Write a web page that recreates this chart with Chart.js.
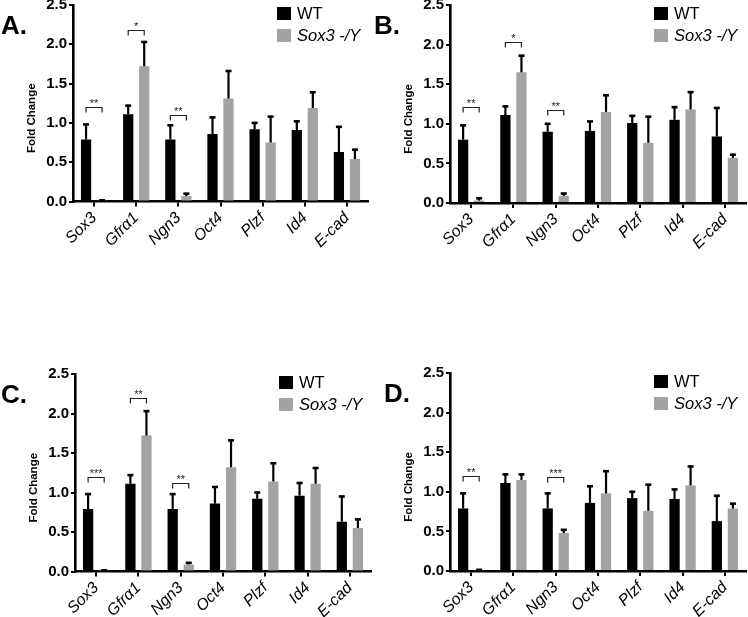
<!DOCTYPE html>
<html>
<head>
<meta charset="utf-8">
<script src="https://cdn.jsdelivr.net/npm/chart.js@4.4.1/dist/chart.umd.min.js"></script>
<style>
  html, body { margin: 0; padding: 0; background: #fff; }
  #wrap { position: relative; width: 748px; height: 617px; overflow: hidden; }
  canvas { position: absolute; }
</style>
</head>
<body>
<div id="wrap">
  <canvas id="panelA" width="374" height="250" style="left:0;top:0"></canvas>
  <canvas id="panelB" width="374" height="250" style="left:374px;top:0"></canvas>
  <canvas id="panelC" width="374" height="317" style="left:0;top:300px"></canvas>
  <canvas id="panelD" width="374" height="317" style="left:374px;top:300px"></canvas>
</div>
<script>
// genes on the x axis
const genes = ['Sox3', 'Gfr\u03B11', 'Ngn3', 'Oct4', 'Plzf', 'Id4', 'E-cad'];
const seriesNames = ['WT', 'Sox3 -/Y'];

// panel A
const wtA = [0.79, 1.11, 0.79, 0.86, 0.92, 0.91, 0.63];
const wtErrA = [0.19, 0.11, 0.18, 0.21, 0.08, 0.11, 0.32];
const koA = [0.01, 1.72, 0.07, 1.31, 0.75, 1.19, 0.54];
const koErrA = [0.005, 0.31, 0.03, 0.35, 0.33, 0.20, 0.12];
const sigGeneA = [0, 1, 2];
const sigLevelA = [1.20, 2.18, 1.10];
const sigTextA = ['**', '*', '**'];

// panel B
const wtB = [0.80, 1.11, 0.90, 0.91, 1.01, 1.05, 0.84];
const wtErrB = [0.18, 0.11, 0.10, 0.12, 0.09, 0.16, 0.36];
const koB = [0.03, 1.65, 0.09, 1.15, 0.76, 1.18, 0.57];
const koErrB = [0.03, 0.21, 0.03, 0.21, 0.33, 0.22, 0.04];
const sigGeneB = [0, 1, 2];
const sigLevelB = [1.21, 2.03, 1.17];
const sigTextB = ['**', '*', '**'];

// panel C
const wtC = [0.79, 1.11, 0.79, 0.86, 0.92, 0.96, 0.63];
const wtErrC = [0.19, 0.11, 0.19, 0.21, 0.08, 0.16, 0.32];
const koC = [0.01, 1.72, 0.09, 1.32, 1.14, 1.11, 0.55];
const koErrC = [0.005, 0.31, 0.02, 0.34, 0.23, 0.20, 0.11];
const sigGeneC = [0, 1, 2];
const sigLevelC = [1.20, 2.20, 1.12];
const sigTextC = ['***', '**', '**'];

// panel D
const wtD = [0.79, 1.11, 0.79, 0.86, 0.92, 0.91, 0.63];
const wtErrD = [0.19, 0.11, 0.19, 0.21, 0.08, 0.12, 0.32];
const koD = [0.01, 1.15, 0.48, 0.98, 0.76, 1.08, 0.79];
const koErrD = [0.005, 0.07, 0.04, 0.28, 0.33, 0.24, 0.06];
const sigGeneD = [0, 2];
const sigLevelD = [1.20, 1.19];
const sigTextD = ['**', '***'];

const yMax = 2.5;
const yStep = 0.5;

const FONT = '"Liberation Sans", Arial, Helvetica, sans-serif';
const GRAY = '#a3a3a3';

// error bars, significance brackets, panel letter, legend and y title
const decoPlugin = {
  id: 'deco',
  afterDatasetsDraw(chart, args, opts) {
    const ctx = chart.ctx;
    const yScale = chart.scales.y;
    const area = chart.chartArea;
    ctx.save();

    // error bars (upper only)
    chart.data.datasets.forEach((ds, i) => {
      const meta = chart.getDatasetMeta(i);
      meta.data.forEach((bar, j) => {
        const top = yScale.getPixelForValue(ds.data[j] + ds.errors[j]);
        ctx.strokeStyle = '#000';
        ctx.lineWidth = 2.2;
        ctx.beginPath();
        ctx.moveTo(bar.x, bar.y);
        ctx.lineTo(bar.x, top);
        ctx.stroke();
        ctx.lineWidth = 2.6;
        ctx.beginPath();
        ctx.moveTo(bar.x - 3, top);
        ctx.lineTo(bar.x + 3, top);
        ctx.stroke();
      });
    });

    // significance brackets
    const m0 = chart.getDatasetMeta(0), m1 = chart.getDatasetMeta(1);
    opts.sigGene.forEach((g, k) => {
      const x1 = m0.data[g].x, x2 = m1.data[g].x;
      const yb = Math.round(yScale.getPixelForValue(opts.sigLevel[k])) + 0.5;
      ctx.strokeStyle = '#222';
      ctx.lineWidth = 1.2;
      ctx.beginPath();
      ctx.moveTo(x1, yb + 5);
      ctx.lineTo(x1, yb);
      ctx.lineTo(x2, yb);
      ctx.lineTo(x2, yb + 5);
      ctx.stroke();
      ctx.fillStyle = '#222';
      ctx.font = '11px ' + FONT;
      ctx.textAlign = 'center';
      ctx.textBaseline = 'alphabetic';
      ctx.fillText(opts.sigText[k], (x1 + x2) / 2, yb - 1);
    });

    // panel letter
    ctx.fillStyle = '#000';
    ctx.font = 'bold 26px ' + FONT;
    ctx.textAlign = 'left';
    ctx.textBaseline = 'alphabetic';
    ctx.fillText(opts.letter, opts.letterX, area.top + 29);

    // y axis title
    ctx.save();
    ctx.translate(area.left - 41, (area.top + area.bottom) / 2 + 15);
    ctx.rotate(-Math.PI / 2);
    ctx.font = 'bold 11.5px ' + FONT;
    ctx.textAlign = 'center';
    ctx.textBaseline = 'middle';
    ctx.fillText('Fold Change', 0, 0);
    ctx.restore();

    // legend
    const lx = area.left + 204;
    const ly = area.top + 2;
    chart.data.datasets.forEach((ds, i) => {
      const y0 = ly + i * 22;
      ctx.fillStyle = ds.backgroundColor;
      ctx.fillRect(lx, y0, 14, 13);
      ctx.fillStyle = '#000';
      ctx.font = (i === 1 ? 'italic ' : '') + '16.5px ' + FONT;
      ctx.textAlign = 'left';
      ctx.textBaseline = 'middle';
      ctx.fillText(ds.label, lx + 20, y0 + 7);
    });

    ctx.restore();
  }
};

const makePanel = (id, wt, wtErr, ko, koErr, deco, pad, yAxisWidth, xAxisHeight) => {
  const canvas = document.getElementById(id);
  return new Chart(canvas, {
    type: 'bar',
    data: {
      labels: genes,
      datasets: [
        { label: seriesNames[0], data: wt, errors: wtErr, backgroundColor: '#000' },
        { label: seriesNames[1], data: ko, errors: koErr, backgroundColor: GRAY }
      ]
    },
    options: {
      responsive: false,
      animation: false,
      categoryPercentage: 0.76,
      barPercentage: 0.64,
      layout: { padding: pad },
      plugins: {
        legend: { display: false },
        tooltip: { enabled: false },
        deco
      },
      scales: {
        x: {
          grid: { offset: false, drawOnChartArea: false, drawTicks: true, tickLength: 5, color: '#000', lineWidth: 2 },
          border: { color: '#000', width: 2.6 },
          ticks: {
            color: '#000',
            font: { family: FONT, size: 16, style: 'italic' },
            maxRotation: 45,
            minRotation: 45,
            padding: 2,
            autoSkip: false
          },
          afterFit: (s) => {
            s.height = xAxisHeight;
            s.paddingLeft = 0; s.paddingRight = 0;
          }
        },
        y: {
          min: 0,
          max: yMax,
          grid: { drawOnChartArea: false, drawTicks: true, tickLength: 4, color: '#000', lineWidth: 2 },
          border: { color: '#000', width: 2.6 },
          ticks: {
            stepSize: yStep,
            color: '#000',
            padding: 2,
            font: { family: FONT, size: 15, weight: 'bold' },
            callback: (v) => v.toFixed(1)
          },
          afterFit: (s) => {
            s.width = yAxisWidth;
            s.paddingTop = 0; s.paddingBottom = 0;
          }
        }
      }
    },
    plugins: [decoPlugin]
  });
};

makePanel('panelA', wtA, wtErrA, koA, koErrA,
  { letter: 'A.', letterX: 1, sigGene: sigGeneA, sigLevel: sigLevelA, sigText: sigTextA },
  { top: 5, right: 6, left: 0, bottom: 0 }, 73, 48.5);

makePanel('panelB', wtB, wtErrB, koB, koErrB,
  { letter: 'B.', letterX: 0, sigGene: sigGeneB, sigLevel: sigLevelB, sigText: sigTextB },
  { top: 5, right: 2, left: 0, bottom: 0 }, 76, 47);

makePanel('panelC', wtC, wtErrC, koC, koErrC,
  { letter: 'C.', letterX: 1, sigGene: sigGeneC, sigLevel: sigLevelC, sigText: sigTextC },
  { top: 74, right: 3, left: 0, bottom: 0 }, 75, 45.5);

makePanel('panelD', wtD, wtErrD, koD, koErrD,
  { letter: 'D.', letterX: 10, sigGene: sigGeneD, sigLevel: sigLevelD, sigText: sigTextD },
  { top: 73, right: 2, left: 0, bottom: 0 }, 76, 46);
</script>
</body>
</html>
